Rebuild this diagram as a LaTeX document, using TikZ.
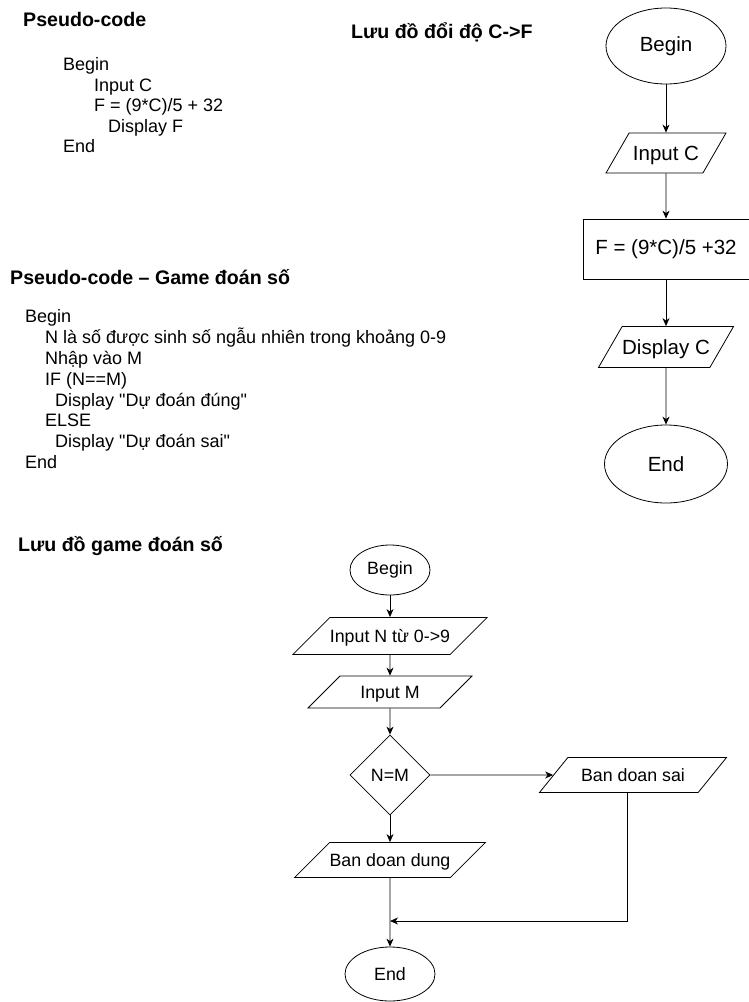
\documentclass[tikz,border=0pt]{standalone}
\usepackage{fontspec}
\setmainfont{Liberation Sans}[Ligatures=TeXOff]
\usetikzlibrary{shapes.geometric,arrows.meta}
\begin{document}
\begin{tikzpicture}[x=1pt,y=-1pt]
        \tikzset{Terminal/.style={%
                shape=ellipse,%
                draw=black,%
                line width=0.8pt,%
                inner sep=0pt,%
            },
            Data/.style={%
                shape=trapezium,%
                trapezium left angle=60,%
                trapezium right angle=120,%
                trapezium stretches body=true,%
                draw=black,%
                line width=0.8pt,%
                inner sep=0pt,%
            },
            Slanted/.style={%
                Data,%
                trapezium left angle=#1,%
                trapezium right angle=180-#1,%
            },
            Process/.style={%
                shape=rectangle,%
                draw=black,%
                line width=0.8pt,%
                inner sep=0pt,%
            },
            Decision/.style={%
                shape=diamond,%
                draw=black,%
                line width=0.8pt,%
                inner sep=0pt,%
            },
            BigText/.style={font=\fontsize{20.5}{23}\selectfont},
            SmallText/.style={font=\fontsize{17.8}{20}\selectfont},
            Code/.style={anchor=base west, inner sep=0pt, font=\fontsize{18}{20}\selectfont},
            Heading/.style={anchor=base west, inner sep=0pt, font=\fontsize{19.6}{22}\selectfont\bfseries},
            Flow/.style={-{Stealth[length=8pt,width=7pt,inset=2.5pt]}, line width=0.8pt},
        }
        \useasboundingbox (0,0) rectangle (749,1002);

        % pseudo-code C -> F
        \node[Heading] (h1) at (23,26) {Pseudo-code};
        \node[Code] (c1) at (63,70.5) {Begin};
        \node[Code] (c2) at (94,91) {Input C};
        \node[Code] (c3) at (94,111.5) {F = (9*C)/5 + 32};
        \node[Code] (c4) at (108,132) {Display F};
        \node[Code] (c5) at (63,152.5) {End};

        % pseudo-code game
        \node[Heading] (h2) at (10,284) {Pseudo-code – Game đoán số};
        \node[Code] (g1) at (25,322.7) {Begin};
        \node[Code] (g2) at (45,343.3) {N là số được sinh số ngẫu nhiên trong khoảng 0-9};
        \node[Code] (g3) at (45,364) {Nhập vào M};
        \node[Code] (g4) at (45,385) {IF (N==M)};
        \node[Code] (g5) at (55,406) {Display "Dự đoán đúng"};
        \node[Code] (g6) at (45,426.7) {ELSE};
        \node[Code] (g7) at (55,447.5) {Display "Dự đoán sai"};
        \node[Code] (g8) at (25,468) {End};

        % flowchart C -> F
        \node[Heading] (h3) at (351,38) {Lưu đồ đổi độ C->F};
        \node[Terminal, BigText, minimum width=120pt, minimum height=76pt] (tbegin) at (666,46) {Begin};
        \node[Data, BigText, text height=27.35pt, text depth=12.65pt, minimum width=120pt, below of=tbegin, node distance=107pt] (tinput) {Input C};
        \node[Process, BigText, minimum width=166pt, minimum height=60pt, below of=tinput, node distance=96pt] (tcalc) {F = (9*C)/5 +32};
        \node[Data, BigText, text height=27.85pt, text depth=13.15pt, minimum width=115pt, below of=tcalc, node distance=98pt] (tdisplay) {Display C};
        \node[Terminal, BigText, minimum width=123pt, minimum height=78pt, below of=tdisplay, node distance=117pt] (tend) {End};

        \path (tbegin) edge[Flow] (tinput);
        \path (tinput) edge[Flow] (tcalc);
        \path (tcalc) edge[Flow] (tdisplay);
        \path (tdisplay) edge[Flow] (tend);

        % flowchart game
        \node[Heading] (h4) at (18,551) {Lưu đồ game đoán số};
        \node[Terminal, SmallText, minimum width=80pt, minimum height=50pt] (bbegin) at (390,570) {Begin};
        \node[Slanted=45, SmallText, text height=24.87pt, text depth=12.13pt, minimum width=187pt, below of=bbegin, node distance=66pt] (binputn) {Input N từ 0->9};
        \node[Slanted=45, SmallText, text height=22.37pt, text depth=9.63pt, minimum width=164pt, below of=binputn, node distance=56pt] (binputm) {Input M};
        \node[Decision, SmallText, minimum width=80pt, minimum height=80pt, below of=binputm, node distance=83pt] (bcheck) {N=M};
        \node[Slanted=45, SmallText, text height=23.87pt, text depth=11.13pt, minimum width=187pt, below of=bcheck, node distance=85pt] (bdung) {Ban doan dung};
        \node[Terminal, SmallText, minimum width=90pt, minimum height=54pt, below of=bdung, node distance=114pt] (bend) {End};
        \node[Slanted=51, SmallText, text height=23.87pt, text depth=11.13pt, minimum width=187pt, right of=bcheck, node distance=243pt] (bsai) {Ban doan sai};
        \coordinate (join) at (bdung.south |- 0,921);

        \path (bbegin) edge[Flow] (binputn);
        \path (binputn) edge[Flow] (binputm);
        \path (binputm) edge[Flow] (bcheck);
        \path (bcheck) edge[Flow] (bsai);
        \path (bcheck) edge[Flow] (bdung);
        \path (bdung) edge[Flow] (bend);
        \draw[Flow] ([xshift=-6pt]bsai.south) |- (join);
\end{tikzpicture}
\end{document}
